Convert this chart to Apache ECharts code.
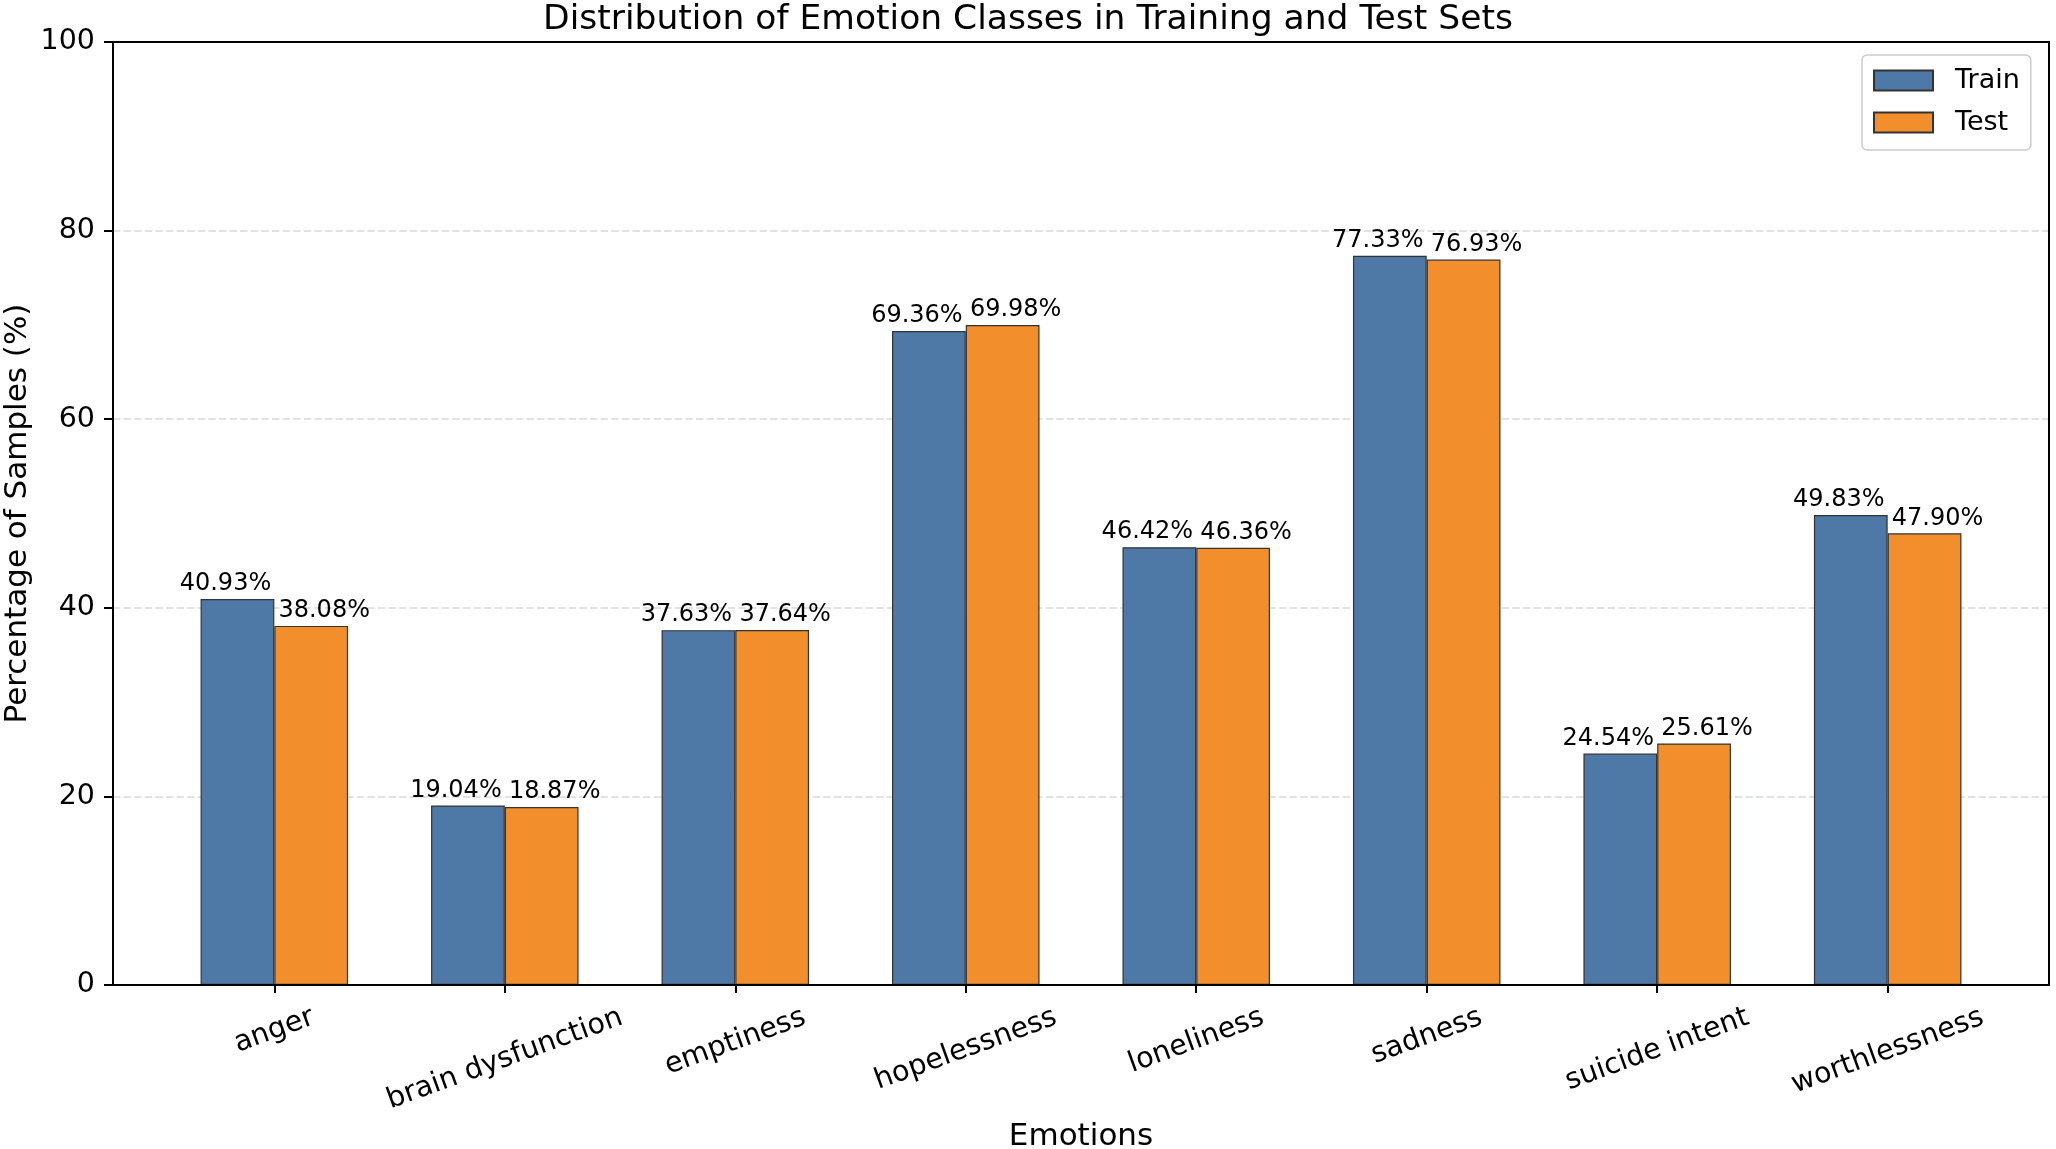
<!DOCTYPE html>
<html>
<head>
<meta charset="utf-8">
<script src="https://cdn.jsdelivr.net/npm/echarts@6/dist/echarts.min.js"></script>
<style>
html,body{margin:0;padding:0;background:#fff;}
#chart{width:2056px;height:1149px;}
</style>
</head>
<body>
<div id="chart"></div>
<script>
const categories = ['anger','brain dysfunction','emptiness','hopelessness','loneliness','sadness','suicide intent','worthlessness'];
const trainValues = [40.93, 19.04, 37.63, 69.36, 46.42, 77.33, 24.54, 49.83];
const testValues = [38.08, 18.87, 37.64, 69.98, 46.36, 76.93, 25.61, 47.90];
const seriesNames = ['Train', 'Test'];
const titleText = 'Distribution of Emotion Classes in Training and Test Sets';
const xName = 'Emotions';
const yName = 'Percentage of Samples (%)';

const FONT = '"DejaVu Sans", "Liberation Sans", sans-serif';
const TICK_FS = 28.5;
const plotL = 113, plotR = 2049, plotT = 42, plotB = 985;
const W = 2056, H = 1149;
const band = (plotR - plotL) / (categories.length + 0.4);
const inset = 0.2 * band;

// rotated tick label layout (centered, like matplotlib rotation=20, ha=center)
const ctx = document.createElement('canvas').getContext('2d');
ctx.font = TICK_FS + 'px "DejaVu Sans"';
const theta = 20 * Math.PI / 180;
const M = 10;
const lineH = 1.164 * TICK_FS;
const rich = {};
categories.forEach((c, i) => {
  const w = ctx.measureText(c).width;
  const D = 16 + (w * Math.sin(theta) + lineH * Math.cos(theta)) / 2;
  const d = D - M;
  rich['c' + i] = {
    fontSize: TICK_FS, fontFamily: FONT, color: '#000',
    padding: [2 * d * Math.cos(theta), 2 * d * Math.sin(theta), 0, 0]
  };
});

const chart = echarts.init(document.getElementById('chart'), null, {renderer: 'canvas'});
const mkLabel = (dx) => ({
  show: true, position: 'top', distance: 3, offset: [dx, 0],
  fontSize: 24, fontFamily: FONT, color: '#000',
  formatter: p => p.value.toFixed(2) + '%'
});
chart.setOption({
  animation: false,
  backgroundColor: '#fff',
  title: {
    text: titleText, left: 'center', top: 3, padding: 0,
    textStyle: {fontSize: 34.5, fontWeight: 'normal', fontFamily: FONT, color: '#000'}
  },
  legend: {
    data: seriesNames, orient: 'vertical', left: 1862, top: 55,
    padding: [12, 11, 14, 11], itemGap: 15, itemWidth: 59, itemHeight: 20,
    backgroundColor: '#fff', borderColor: '#ccc', borderWidth: 1.5, borderRadius: 5,
    icon: 'rect',
    textStyle: {fontSize: 27, fontFamily: FONT, color: '#000', padding: [0, 0, 0, 17]}
  },
  grid: [
    {left: plotL, right: W - plotR, top: plotT, bottom: H - plotB, show: true,
     containLabel: false, outerBoundsMode: 'none',
     borderColor: '#000', borderWidth: 2, backgroundColor: 'transparent', z: 5},
    {left: plotL + inset, right: W - plotR + inset, top: plotT, bottom: H - plotB,
     containLabel: false, outerBoundsMode: 'none'}
  ],
  xAxis: [
    {type: 'value', gridIndex: 0, min: 0, max: 1, show: false},
    {type: 'category', gridIndex: 1, data: categories,
     axisLine: {show: false},
     axisTick: {show: true, alignWithLabel: true, length: 8, lineStyle: {color: '#000', width: 2}},
     axisLabel: {interval: 0, rotate: 20, align: 'center', verticalAlign: 'middle', margin: M,
       fontSize: TICK_FS, fontFamily: FONT, color: '#000', hideOverlap: false,
       formatter: (v, i) => '{c' + i + '|' + v + '}', rich: rich},
     name: xName, nameLocation: 'middle', nameGap: 135,
     nameTextStyle: {fontSize: 31, fontFamily: FONT, color: '#000'}
    }
  ],
  yAxis: [
    {type: 'value', gridIndex: 0, min: 0, max: 100, interval: 20,
     axisLine: {show: false},
     axisTick: {show: true, length: 9, lineStyle: {color: '#000', width: 2}},
     axisLabel: {fontSize: TICK_FS, fontFamily: FONT, color: '#000', margin: 18},
     splitLine: {show: true, lineStyle: {color: '#e2e2e2', width: 2, type: [7.4, 3.2]}},
     name: yName, nameLocation: 'middle', nameGap: 80, nameMoveOverlap: false,
     nameTextStyle: {fontSize: 31, fontFamily: FONT, color: '#000'}
    },
    {type: 'value', gridIndex: 1, min: 0, max: 100, show: false}
  ],
  series: [
    {name: seriesNames[0], type: 'bar', xAxisIndex: 1, yAxisIndex: 1, data: trainValues,
     barGap: '0%', barCategoryGap: '36%',
     itemStyle: {color: '#4e79a7', borderColor: '#333', borderWidth: 1.2},
     label: mkLabel(-12)},
    {name: seriesNames[1], type: 'bar', xAxisIndex: 1, yAxisIndex: 1, data: testValues,
     barGap: '0%', barCategoryGap: '36%',
     itemStyle: {color: '#f28e2b', borderColor: '#333', borderWidth: 1.2},
     label: mkLabel(13)}
  ]
});
</script>
</body>
</html>
